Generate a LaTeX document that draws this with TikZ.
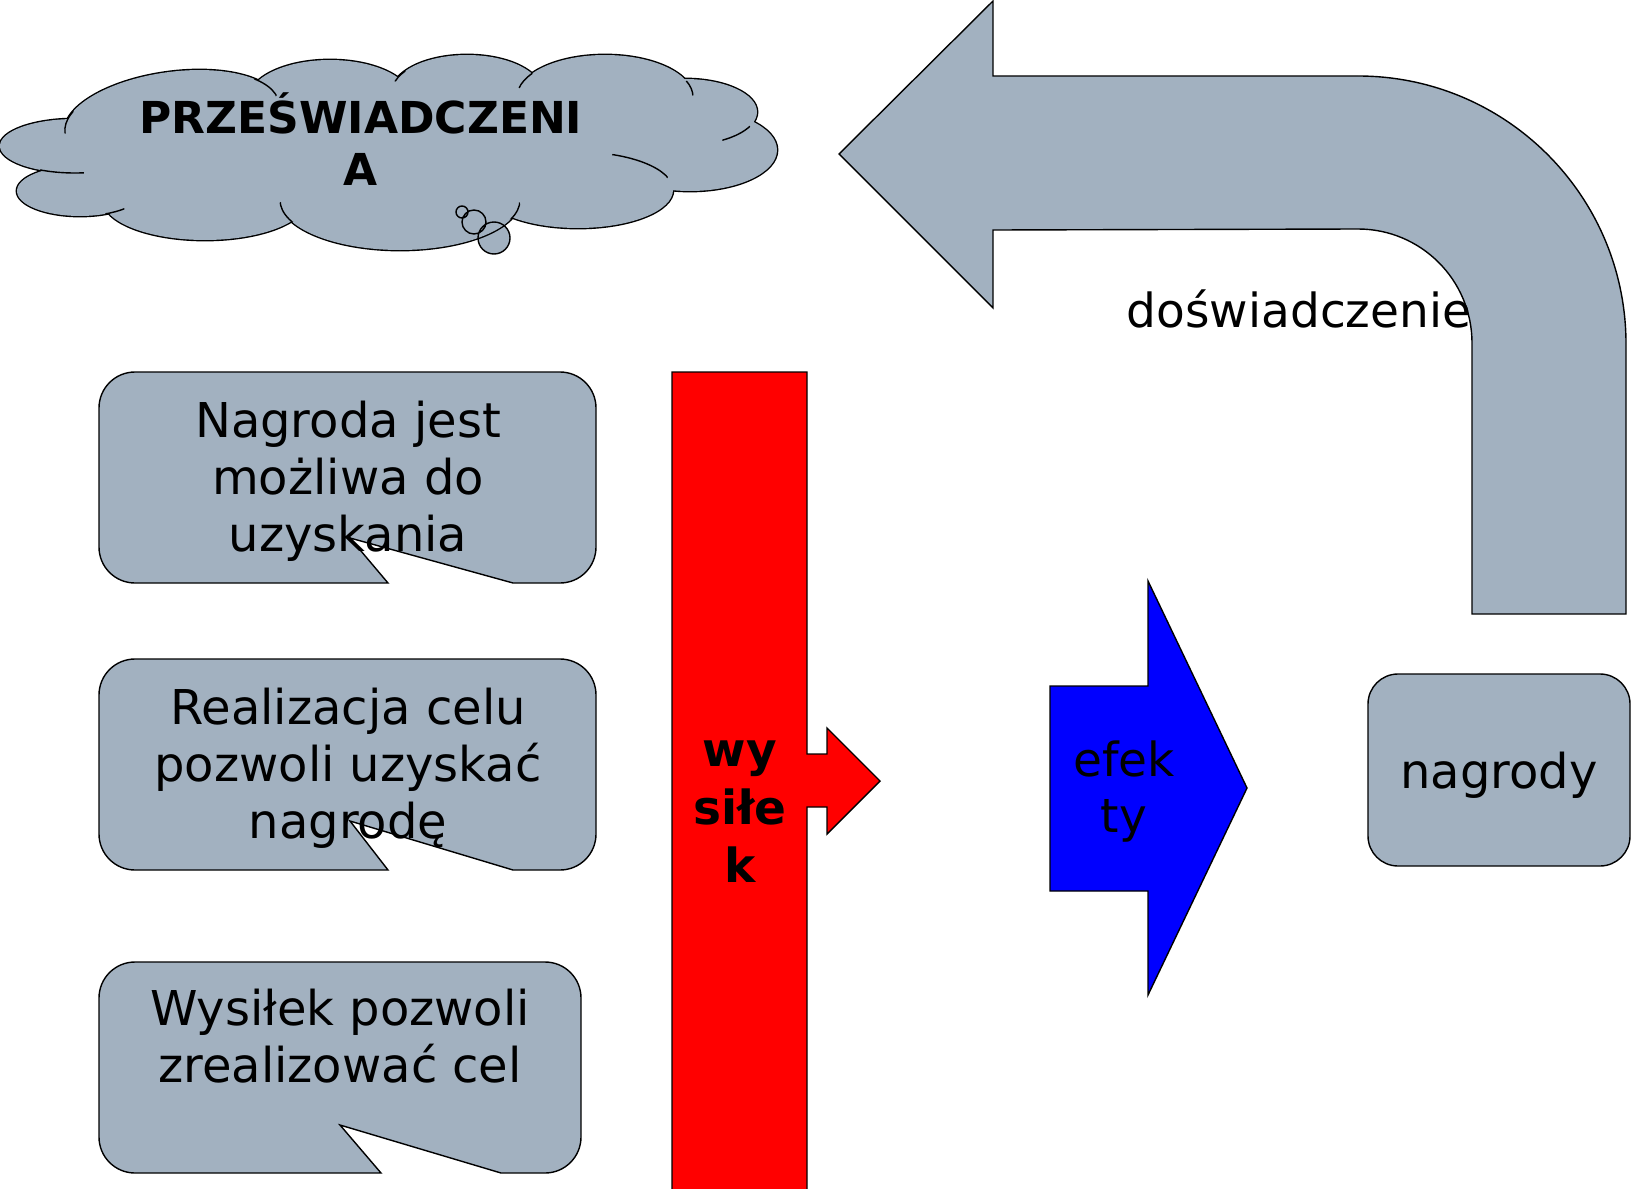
\documentclass[tikz,border=0pt]{standalone}
\usepackage{fontspec}
\setmainfont{DejaVu Sans}
\definecolor{slate}{HTML}{A2B1C0}
\tikzset{
  panel/.style={draw=black, fill=slate, line width=0.7pt},
  words/.style={inner sep=0pt, align=center, font=\fontsize{24}{28.5}\selectfont},
  heavy/.style={inner sep=0pt, align=center, font=\bfseries\fontsize{23.5}{29}\selectfont}
}
% lobes of the cloud: centre x/centre y/x radius/y radius/tilt
\newcommand{\cloudlobes}{75/146/75/27/0, 80/191/63/25/0, 205/200/102/40/0, 400/200/120/50/0, 578/190/95/38/0, 690/150/87/41/0, 685/112/72/33/0, 605/97/88/42/0, 467/92/75/37/0, 330/100/82/40/0, 172/118/108/46/8}
\begin{document}
\begin{tikzpicture}[x=0.5pt, y=-0.5pt]
	\useasboundingbox (0,0) rectangle (1632,1188);
	% thought cloud
	\fill[slate] (494,238) circle (16) (474,222) circle (12) (462,212) circle (6);
	\foreach \cx/\cy/\rx/\ry/\a in \cloudlobes
		\draw[line width=1.4pt, rotate around={\a:(\cx,\cy)}] (\cx,\cy) ellipse [x radius=\rx, y radius=\ry];
	\foreach \cx/\cy/\rx/\ry/\a in \cloudlobes
		\fill[slate, rotate around={\a:(\cx,\cy)}] (\cx,\cy) ellipse [x radius=\rx, y radius=\ry];
	\fill[slate] (390,150) ellipse [x radius=300, y radius=60];
	\foreach \cx/\cy/\rx/\ry/\a/\px/\py/\r in {172/118/108/46/8/68/122/12, 75/146/75/27/0/62/172/22, 80/191/63/25/0/115/212/10, 172/118/108/46/8/265/88/14, 400/200/120/50/0/287/212/12, 467/92/75/37/0/398/74/8, 605/97/88/42/0/525/80/10, 605/97/88/42/0/690/88/8, 685/112/72/33/0/738/137/16, 578/190/95/38/0/640/166/30, 400/200/120/50/0/513/210/10}{
		\begin{scope}
			\clip (\px,\py) circle (\r);
			\draw[line width=0.7pt, rotate around={\a:(\cx,\cy)}] (\cx,\cy) ellipse [x radius=\rx, y radius=\ry];
		\end{scope}
	}
	\draw[line width=0.7pt] (494,238) circle (16) (474,222) circle (12) (462,212) circle (6);
	\node[heavy, font=\bfseries\fontsize{22}{26}\selectfont] (belief) at (361,139) {PRZEŚWIADCZENI\\A};
	% bent arrow back
	\draw[panel] (839,154) -- (993,1) -- (993,76) -- (1358,76) arc[start angle=-90, end angle=0, radius=268] -- (1626,614) -- (1472,614) -- (1472,343) arc[start angle=0, end angle=-90, radius=114] -- (993,230) -- (993,308) -- cycle;
	\node[words, font=\fontsize{23.5}{28}\selectfont] (experience) at (1299,309) {doświadczenie};
	% speech bubbles
	\foreach \xa/\ya/\xb/\yb/\tl/\tx/\ty/\tr in {99/372/596/583/388/350/538/513, 99/659/596/870/388/350/821/513, 99/962/581/1173/381/340/1125/501}
		\draw[panel] (\xa+36,\ya) -- (\xb-36,\ya) arc[start angle=-90, end angle=0, radius=36] -- (\xb,\yb-36) arc[start angle=0, end angle=90, radius=36] -- (\tr,\yb) -- (\tx,\ty) -- (\tl,\yb) -- (\xa+36,\yb) arc[start angle=90, end angle=180, radius=36] -- (\xa,\ya+36) arc[start angle=180, end angle=270, radius=36] -- cycle;
	\node[words] (hope) at (348,481) {Nagroda jest\\możliwa do\\uzyskania};
	\node[words] (goal) at (348,768) {Realizacja celu\\pozwoli uzyskać\\nagrodę};
	\node[words] (effort) at (340,1036) {Wysiłek pozwoli\\zrealizować cel};
	% effort bar
	\draw[panel, fill=red] (672,372) -- (807,372) -- (807,754) -- (827,754) -- (827,728) -- (880,781) -- (827,834) -- (827,807) -- (807,807) -- (807,1192) -- (672,1192) -- cycle;
	\node[heavy] (exert) at (740,812) {wy\\siłe\\k};
	% results arrow
	\draw[panel, fill=blue] (1050,686) -- (1148,686) -- (1148,581) -- (1247,788) -- (1148,995) -- (1148,891) -- (1050,891) -- cycle;
	\node[words, font=\fontsize{23.5}{28}\selectfont] (results) at (1124,792) {efek\\ty};
	% rewards
	\node[panel, words, rounded corners=15pt, minimum width=131pt, minimum height=96pt, text depth=0pt] (rewards) at (1499,770) {nagrody};
\end{tikzpicture}
\end{document}
